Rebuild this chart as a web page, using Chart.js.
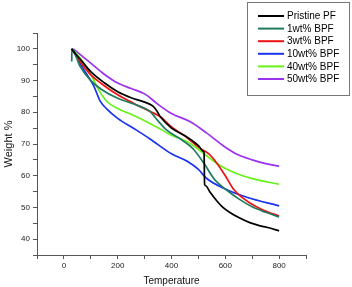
<!DOCTYPE html>
<html>
<head>
<meta charset="utf-8">
<script src="https://cdn.jsdelivr.net/npm/chart.js@4/dist/chart.umd.min.js"></script>
<style>
html,body{margin:0;padding:0;background:#fff;}
#wrap{width:352px;height:287px;position:relative;}
</style>
</head>
<body>
<div id="wrap"><canvas id="c" width="352" height="287"></canvas></div>
<script>
const seriesLabels = ["Pristine PF", "1wt% BPF", "3wt% BPF", "10wt% BPF", "40wt% BPF", "50wt% BPF"];
const xTickLabels = [0, 200, 400, 600, 800];
const yTickLabels = [40, 50, 60, 70, 80, 90, 100];

const pfT = [28, 60, 100, 150, 200, 250, 300, 330, 345, 360, 400, 450, 500, 518, 521, 523, 526, 545, 568, 590, 617, 650, 691, 730, 765, 800];
const pfW = [100, 96.8, 92.8, 89.3, 86.5, 84.6, 83.2, 82, 80.5, 78.4, 75, 72.6, 69.5, 67.7, 67.3, 57.3, 56.9, 54.6, 52.1, 50.1, 48.4, 46.8, 45.2, 44.2, 43.5, 42.6];

const b1T = [29, 30, 60, 100, 140, 200, 260, 320, 350, 380, 440, 480, 520, 560, 600, 650, 700, 750, 800];
const b1W = [96, 100, 94.5, 90, 87.2, 84.4, 82.6, 80.2, 77.3, 74.5, 71.2, 68.5, 64, 58.8, 55.8, 52.7, 50.2, 48.5, 47];

const b3T = [30, 60, 100, 140, 200, 260, 320, 360, 400, 450, 500, 540, 570, 600, 630, 660, 690, 740, 800];
const b3W = [100, 96, 91.8, 89, 85.5, 82.8, 80.3, 78.5, 75.4, 72.5, 69.0, 66.8, 63.8, 60.0, 55.8, 53.3, 51.5, 49.2, 47.3];

const b10T = [30, 70, 110, 135, 160, 200, 260, 320, 400, 460, 500, 530, 600, 680, 800];
const b10W = [100, 94, 88.5, 83.5, 81, 78.1, 74.9, 71.6, 66.9, 64.5, 62, 59.2, 55.8, 53.2, 50.5];

const b40T = [32, 70, 100, 130, 160, 200, 260, 320, 400, 460, 520, 570, 630, 700, 800];
const b40W = [100, 96, 92, 87, 83.4, 81.2, 79, 76.5, 72.8, 70.6, 67, 63.8, 61.1, 59.1, 57.3];

const b50T = [35, 100, 150, 200, 250, 300, 350, 400, 470, 530, 600, 650, 700, 750, 800];
const b50W = [100, 95.5, 92, 89.2, 87.5, 85.8, 82.5, 79.6, 77, 73.5, 69, 66.5, 65, 63.8, 63];

const colors = ["#000000", "#1f7a5e", "#ee1111", "#1a33ee", "#66f21a", "#9a33ee"];
const allT = [pfT, b1T, b3T, b10T, b40T, b50T];
const allW = [pfW, b1W, b3W, b10W, b40W, b50W];

const datasets = seriesLabels.map((lab, i) => ({
  label: lab,
  data: allT[i].map((t, k) => ({x: t, y: allW[i][k]})),
  borderColor: colors[i],
  backgroundColor: colors[i],
  borderWidth: 1.7,
  pointRadius: 0,
  fill: false,
  cubicInterpolationMode: 'monotone'
}));

const boxLegend = {
  id: 'boxLegend',
  afterDraw(chart) {
    const ctx = chart.ctx;
    ctx.save();
    ctx.strokeStyle = '#777';
    ctx.lineWidth = 1;
    ctx.strokeRect(247.5, 2.5, 102, 93);
    ctx.font = '10px "Liberation Sans", Arial, sans-serif';
    ctx.textBaseline = 'middle';
    ctx.textAlign = 'left';
    chart.data.datasets.forEach((ds, i) => {
      const y = 16 + i * 12.6;
      ctx.strokeStyle = ds.borderColor;
      ctx.lineWidth = 2;
      ctx.beginPath();
      ctx.moveTo(258, y);
      ctx.lineTo(284, y);
      ctx.stroke();
      ctx.fillStyle = '#000';
      ctx.fillText(ds.label, 287, y + 0.5);
    });
    ctx.restore();
  }
};

new Chart(document.getElementById('c'), {
  type: 'line',
  data: {datasets},
  plugins: [boxLegend],
  options: {
    responsive: false,
    animation: false,
    layout: {padding: {top: 33, right: 46, left: 0, bottom: 0}},
    plugins: {legend: {display: false}, tooltip: {enabled: false}},
    scales: {
      x: {
        type: 'linear',
        min: -100, max: 900,
        afterFit: s => { s.height = 32; },
        border: {display: true, color: '#555', width: 1},
        grid: {drawOnChartArea: false, drawTicks: true, tickLength: 4, color: '#555'},
        ticks: {
          stepSize: 100, autoSkip: false, maxRotation: 0, padding: 2,
          color: '#222', font: {size: 8, family: '"Liberation Sans", Arial, sans-serif'},
          callback: v => xTickLabels.includes(v) ? String(v) : ''
        },
        title: {display: true, text: 'Temperature', color: '#111', padding: {top: 0, bottom: 0},
          font: {size: 10, family: '"Liberation Sans", Arial, sans-serif'}}
      },
      y: {
        type: 'linear',
        min: 35, max: 105,
        afterFit: s => { s.width = 37; },
        border: {display: true, color: '#555', width: 1},
        grid: {drawOnChartArea: false, drawTicks: true, tickLength: 4, color: '#555'},
        ticks: {
          stepSize: 5, autoSkip: false, padding: 3,
          color: '#222', font: {size: 8, family: '"Liberation Sans", Arial, sans-serif'},
          callback: v => yTickLabels.includes(v) ? String(v) : ''
        },
        title: {display: true, text: 'Weight %', color: '#111', padding: {top: 2, bottom: 0},
          font: {size: 11, family: '"Liberation Sans", Arial, sans-serif'}}
      }
    }
  }
});
</script>
</body>
</html>
